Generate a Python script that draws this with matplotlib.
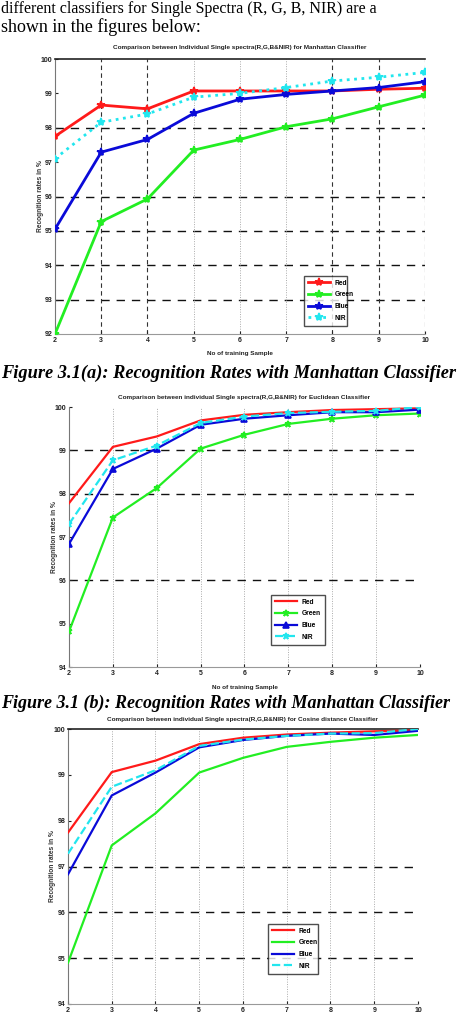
import numpy as np
import matplotlib
matplotlib.use("Agg")
import matplotlib.pyplot as plt

# =====================================================
# Data
# =====================================================
samples = [2, 3, 4, 5, 6, 7, 8, 9, 10]
series_names = ["Red", "Green", "Blue", "NIR"]

# (a) Manhattan classifier
man_red = [97.75, 98.66, 98.55, 99.07, 99.07, 99.07, 99.07, 99.12, 99.15]
man_green = [92.0, 95.27, 95.93, 97.35, 97.66, 98.03, 98.26, 98.61, 98.95]
man_blue = [95.05, 97.29, 97.66, 98.42, 98.83, 98.97, 99.07, 99.17, 99.34]
man_nir = [97.1, 98.16, 98.40, 98.89, 99.0, 99.17, 99.36, 99.47, 99.61]

# (b) Euclidean classifier
euc_red = [97.78, 99.08, 99.32, 99.69, 99.82, 99.88, 99.93, 99.95, 99.97]
euc_green = [94.82, 97.45, 98.13, 99.04, 99.36, 99.61, 99.73, 99.81, 99.85]
euc_blue = [96.84, 98.57, 99.04, 99.59, 99.73, 99.81, 99.88, 99.88, 99.94]
euc_nir = [97.30, 98.77, 99.11, 99.63, 99.78, 99.86, 99.89, 99.91, 100.0]

# (c) Cosine distance classifier
cos_red = [97.74, 99.06, 99.31, 99.67, 99.81, 99.88, 99.92, 99.95, 99.97]
cos_green = [94.9, 97.46, 98.16, 99.05, 99.37, 99.61, 99.72, 99.81, 99.87]
cos_blue = [96.83, 98.55, 99.05, 99.6, 99.76, 99.85, 99.9, 99.87, 99.96]
cos_nir = [97.28, 98.74, 99.1, 99.63, 99.77, 99.85, 99.9, 99.91, 100.0]

titles = [
    "Comparison between Individual Single spectra(R,G,B&NIR) for Manhattan Classifier",
    "Comparison between individual Single spectra(R,G,B&NIR) for Euclidean Classifier",
    "Comparison between individual Single spectra(R,G,B&NIR) for Cosine distance Classifier",
]
captions = [
    "Figure 3.1(a): Recognition Rates with Manhattan Classifier",
    "Figure 3.1 (b): Recognition Rates with Manhattan Classifier",
]
body_lines = [
    "different classifiers for Single Spectra (R, G, B, NIR) are a",
    "shown in the figures below:",
]

# =====================================================
# Page setup
# =====================================================
W, H = 477, 1024
fig = plt.figure(figsize=(W / 100, H / 100), dpi=100)
fig.patch.set_facecolor("white")

SMALL = ["Liberation Sans Narrow", "Liberation Sans", "DejaVu Sans"]
SERIF = ["Liberation Serif", "DejaVu Serif"]
colors = ["#ff1a1a", "#22ee22", "#0a0ad8", "#22e6ee"]


def px_axes(l, t, r, b):
    return fig.add_axes([l / W, 1 - b / H, (r - l) / W, (b - t) / H])


def panel(box, ys, ylim, styles, hgrid, vdark, vlight, title, title_y,
          xlabel_y, ylabel_x, legend_box, lw, top_spine):
    ax = px_axes(*box)
    for name, y, c, st in zip(series_names, ys, colors, styles):
        ax.plot(samples, y, color=c, lw=lw, linestyle=st[0], marker=st[1],
                ms=st[2], mew=1.2, label=name, zorder=3)
    ax.set_xlim(2, 10)
    ax.set_ylim(*ylim)
    ax.set_xticks(samples)
    ax.set_yticks(np.arange(ylim[0], ylim[1] + 1))
    ax.tick_params(labelsize=5, length=2, direction="in", pad=2,
                   colors="#222222")
    for lab in ax.get_xticklabels() + ax.get_yticklabels():
        lab.set_family(SMALL)
        lab.set_weight("bold")
    for v in hgrid:
        ax.axhline(v, color="#111111", lw=1.0, ls=(0, (6, 5)), zorder=1)
    for v in vdark:
        ax.axvline(v, color="#333333", lw=0.8, ls=(0, (4, 3)), zorder=1)
    for v in vlight:
        ax.axvline(v, color="#aaaaaa", lw=0.7, ls=(0, (1, 1.5)), zorder=1)
    ax.spines["right"].set_visible(False)
    ax.spines["top"].set_visible(top_spine)
    ax.spines["left"].set_color("#777777")
    ax.spines["bottom"].set_color("#999999")
    ax.spines["top"].set_color("#222222")
    ax.spines["top"].set_linewidth(1.2)

    fig.text(0.5 * (box[0] + box[2]) / W, 1 - title_y / H, title,
             ha="center", va="center", fontsize=4.6, family=SMALL,
             weight="bold", color="#222222")
    if xlabel_y is not None:
        fig.text(0.5 * (box[0] + box[2]) / W, 1 - xlabel_y / H,
                 "No of training Sample", ha="center", va="center",
                 fontsize=4.6, family=SMALL, weight="bold", color="#222222")
    fig.text(ylabel_x / W, 1 - 0.5 * (box[1] + box[3]) / H,
             "Recognition rates in %", rotation=90, ha="center",
             va="center", fontsize=4.8, family=SMALL, weight="bold",
             color="#333333")

    l, t, r, b = legend_box
    leg = ax.legend(loc="lower left",
                    bbox_to_anchor=((l - box[0]) / (box[2] - box[0]),
                                    (box[3] - b) / (box[3] - box[1]),
                                    (r - l) / (box[2] - box[0]),
                                    (b - t) / (box[3] - box[1])),
                    mode="expand", frameon=True, fancybox=False,
                    handlelength=3.2, borderpad=0.6, labelspacing=0.7,
                    prop={"family": SMALL, "weight": "bold", "size": 4.8})
    leg.get_frame().set_edgecolor("#222222")
    leg.get_frame().set_linewidth(1.0)
    leg.set_zorder(5)
    return ax


# =============================
# (a) Manhattan
# =============================
panel((55, 59, 425, 334), [man_red, man_green, man_blue, man_nir], (92, 100),
      [("-", "*", 6), ("-", "*", 6), ("-", "*", 6), (":", "*", 6)],
      hgrid=[93, 94, 95, 96, 98], vdark=[3, 4, 8, 9, 10], vlight=[5, 6, 7],
      title=titles[0], title_y=48, xlabel_y=354, ylabel_x=40,
      legend_box=(301, 272, 350, 329), lw=2.0, top_spine=True)

# =============================
# (b) Euclidean
# =============================
panel((69, 407, 420, 667), [euc_red, euc_green, euc_blue, euc_nir], (94, 100),
      [("-", "", 0), ("-", "*", 5), ("-", "^", 4), ("--", "*", 5)],
      hgrid=[96, 98, 99], vdark=[], vlight=[3, 4, 5, 6, 7, 8, 9, 10],
      title=titles[1], title_y=397, xlabel_y=688, ylabel_x=55,
      legend_box=(268, 594, 328, 648), lw=1.6, top_spine=False)

# =============================
# (c) Cosine distance
# =============================
panel((68, 729, 418, 1004), [cos_red, cos_green, cos_blue, cos_nir], (94, 100),
      [("-", "", 0), ("-", "", 0), ("-", "", 0), ("--", "", 0)],
      hgrid=[95, 96, 97], vdark=[], vlight=[3, 4, 5, 6, 7, 8, 9, 10],
      title=titles[2], title_y=720, xlabel_y=None, ylabel_x=53,
      legend_box=(265, 927, 321, 977), lw=1.6, top_spine=True)

# =============================
# Page text
# =============================
fig.text(1 / W, 1 - 1 / H, body_lines[0], ha="left", va="top",
         fontsize=11.5, family=SERIF)
fig.text(1 / W, 1 - 27 / H, body_lines[1], ha="left", va="center",
         fontsize=13.0, family=SERIF)
fig.text(1 / W, 1 - 373 / H, captions[0], ha="left", va="center",
         fontsize=13.2, family=SERIF, weight="bold", style="italic")
fig.text(1 / W, 1 - 703 / H, captions[1], ha="left", va="center",
         fontsize=13.0, family=SERIF, weight="bold", style="italic")

fig.savefig("out.png", dpi=100)
